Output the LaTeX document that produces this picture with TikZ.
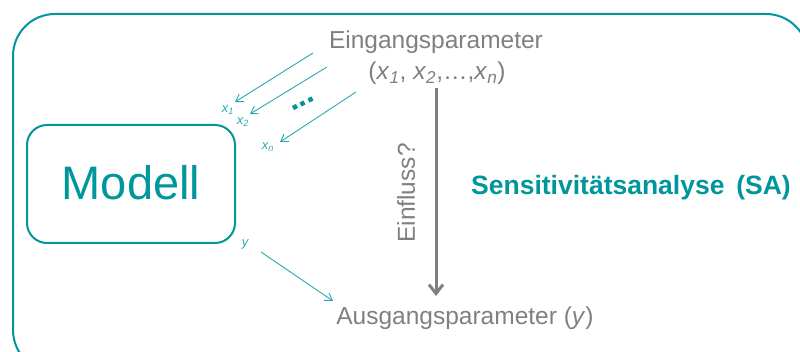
\documentclass[tikz,border=0pt]{standalone}
\usepackage{fontspec}
\setmainfont{Liberation Sans}
\usetikzlibrary{arrows.meta}
\definecolor{teal1}{RGB}{0,150,155}
\definecolor{teal2}{RGB}{40,170,175}
\definecolor{gray1}{RGB}{128,128,128}
\newcommand{\mysub}[1]{\textsubscript{\itshape #1}}
\begin{document}
\begin{tikzpicture}[x=1pt,y=-1pt,
  frame/.style={draw=teal1,line width=2pt,rounded corners=42pt},
  modbox/.style={draw=teal1,line width=2pt,rounded corners=20pt,minimum width=208pt,minimum height=118pt},
  graytxt/.style={text=gray1,font=\fontsize{24.5}{28}\selectfont,inner sep=0pt},
  inarrow/.style={draw=teal2,line width=0.9pt,-{Straight Barb[length=7pt,width=9pt]}},
  sublbl/.style={text=teal2,font=\fontsize{13}{15}\selectfont\itshape,inner sep=0pt},
  dotsq/.style={fill=teal1,inner sep=0pt,minimum size=4.5pt,rotate=28}]
\useasboundingbox (0,0) rectangle (800,352);
\draw[frame] (13,14) rectangle (808,372);
\node[modbox] (modell) at (131,184) {};
\node[text=teal1,font=\fontsize{47}{50}\selectfont] (mtext) at (131,183) {Modell};
\node[graytxt,anchor=base] (ein) at (436,49) {Eingangsparameter};
\node[graytxt] (vec) at (437,73) {(\textit{x}\mysub{1}, \textit{x}\mysub{2},\dots,\textit{x}\mysub{n})};
\node[graytxt] (aus) at (465,318) {Ausgangsparameter (\textit{y})};
\coordinate (gtop) at (436,88);
\coordinate (gbot) at (436,296);
\draw[gray1,line width=3pt,-{Straight Barb[length=9pt,width=14pt,line width=3pt]}] (gtop) -- (gbot);
\node[graytxt,rotate=90] (einfl) at (406,193) {Einfluss?};
\node[text=teal1,font=\bfseries\fontsize{26.5}{30}\selectfont,inner sep=0pt] (sa) at (631,188) {Sensitivitätsanalyse\, (SA)};
% input arrows
\coordinate (a1s) at (313,53); \coordinate (a1e) at (235,102);
\coordinate (a2s) at (327,67); \coordinate (a2e) at (250,114);
\coordinate (a3s) at (356,92); \coordinate (a3e) at (280,142);
\draw[inarrow] (a1s) -- (a1e);
\draw[inarrow] (a2s) -- (a2e);
\draw[inarrow] (a3s) -- (a3e);
\node[sublbl] (l1) at (228,110) {x\textsubscript{1}};
\node[sublbl] (l2) at (243,122) {x\textsubscript{2}};
\node[sublbl] (ln) at (268,147) {x\textsubscript{n}};
\node[dotsq] (d1) at (295,107) {};
\node[dotsq] (d2) at (302.5,103.5) {};
\node[dotsq] (d3) at (310.5,99.5) {};
% output arrow
\coordinate (ys) at (261,252); \coordinate (ye) at (333,301);
\draw[inarrow] (ys) -- (ye);
\node[sublbl] (ly) at (245,244) {y};
\end{tikzpicture}
\end{document}
